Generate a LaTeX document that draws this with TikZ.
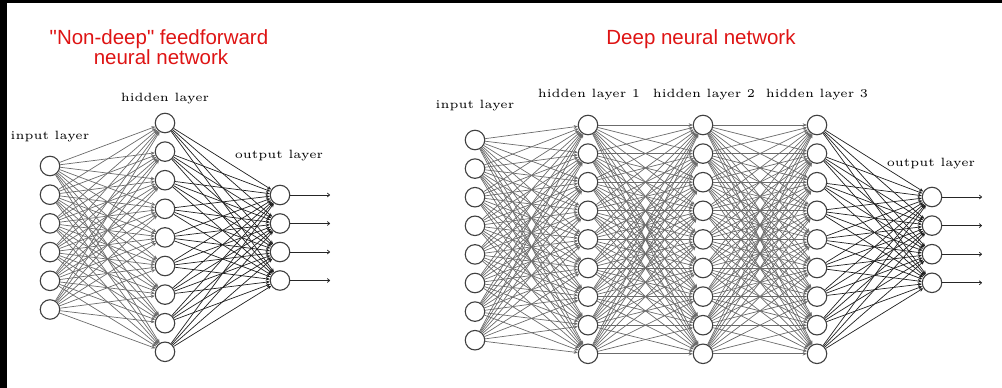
\documentclass[tikz,border=0pt]{standalone}
\usepackage{fontspec}
\usepackage{graphicx}
\usetikzlibrary{arrows.meta}
\newfontfamily\titlefont{Liberation Sans}
\definecolor{titlered}{RGB}{222,20,20}
\newcommand{\cmlabel}[1]{\scalebox{2.4}{\fontsize{5}{6}\selectfont #1}}
\begin{document}
\begin{tikzpicture}[x=1pt,y=-1pt,
  neuron/.style={circle,draw=black!75,line width=1.1pt,fill=white,minimum size=19.5pt,inner sep=0pt},
  conn/.style={-{Stealth[length=4pt,width=3.5pt]},line width=0.7pt,draw=black!58},
  darkconn/.style={-{Stealth[length=4pt,width=3.5pt]},line width=0.7pt,draw=black!88},
  outarrow/.style={-{To[length=3pt,width=4.5pt]},line width=0.75pt,draw=black!85},
  lbl/.style={anchor=base,inner sep=0pt},
  ttl/.style={anchor=base,inner sep=0pt,text=titlered,font=\titlefont\fontsize{20.5}{22}\selectfont}]
\useasboundingbox (0,0) rectangle (1002,388);
\fill[black] (0,0) rectangle (7,388);
\fill[black] (0,0) rectangle (1002,3);

% titles
\node[ttl] (t1) at (159,44) {"Non-deep" feedforward};
\node[ttl] (t2) at (161,64) {neural network};
\node[ttl] (t3) at (701,44) {Deep neural network};

% ---------- left network ----------
\foreach \i in {1,...,6}
  \node[neuron] (LI\i) at (50,{166+28.7*(\i-1)}) {};
\foreach \i in {1,...,9}
  \node[neuron] (LH\i) at (165,{123+28.6*(\i-1)}) {};
\foreach \i in {1,...,4}{
  \node[neuron] (LO\i) at (280,{195+28.5*(\i-1)}) {};
  \coordinate (LA\i) at (330,{195+28.5*(\i-1)});
}
\foreach \i in {1,...,6}
  \foreach \j in {1,...,9}
    \draw[conn] (LI\i) -- (LH\j);
\foreach \i in {1,...,9}
  \foreach \j in {1,...,4}
    \draw[darkconn] (LH\i) -- (LO\j);
\foreach \i in {1,...,4}
  \draw[outarrow] (LO\i) -- (LA\i);

\node[lbl] (l1) at (50,139) {\cmlabel{input layer}};
\node[lbl] (l2) at (165,101) {\cmlabel{hidden layer}};
\node[lbl] (l3) at (279,158) {\cmlabel{output layer}};

% ---------- right network ----------
\foreach \i in {1,...,8}
  \node[neuron] (RI\i) at (475,{140+28.6*(\i-1)}) {};
\foreach \i in {1,...,9}{
  \node[neuron] (RA\i) at (588,{125+28.6*(\i-1)}) {};
  \node[neuron] (RB\i) at (703,{125+28.6*(\i-1)}) {};
  \node[neuron] (RC\i) at (817,{125+28.6*(\i-1)}) {};
}
\foreach \i in {1,...,4}{
  \node[neuron] (RO\i) at (932,{197+28.6*(\i-1)}) {};
  \coordinate (RE\i) at (982,{197+28.6*(\i-1)});
}
\foreach \i in {1,...,8}
  \foreach \j in {1,...,9}
    \draw[conn] (RI\i) -- (RA\j);
\foreach \i in {1,...,9}
  \foreach \j in {1,...,9}{
    \draw[conn] (RA\i) -- (RB\j);
    \draw[conn] (RB\i) -- (RC\j);
  }
\foreach \i in {1,...,9}
  \foreach \j in {1,...,4}
    \draw[darkconn] (RC\i) -- (RO\j);
\foreach \i in {1,...,4}
  \draw[outarrow] (RO\i) -- (RE\i);

\node[lbl] (r1) at (475,108) {\cmlabel{input layer}};
\node[lbl] (r2) at (589,97) {\cmlabel{hidden layer 1}};
\node[lbl] (r3) at (704,97) {\cmlabel{hidden layer 2}};
\node[lbl] (r4) at (817,97) {\cmlabel{hidden layer 3}};
\node[lbl] (r5) at (931,166) {\cmlabel{output layer}};
\end{tikzpicture}
\end{document}
